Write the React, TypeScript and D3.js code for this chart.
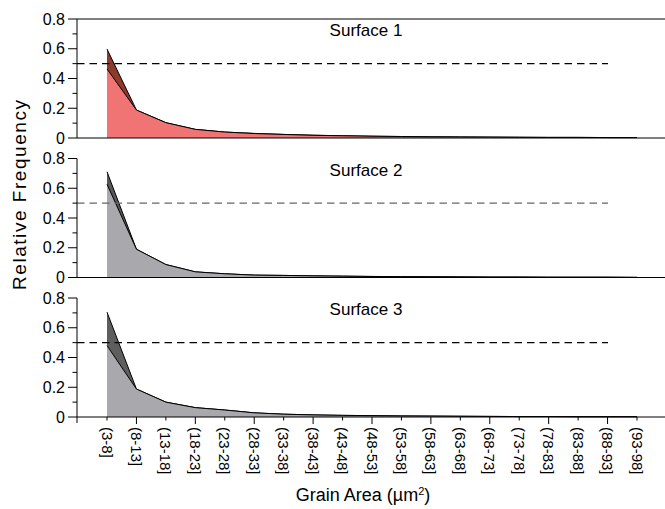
import React from "react";
import * as d3 from "d3";

const categories = ["(3-8]","(8-13]","(13-18]","(18-23]","(23-28]","(28-33]","(33-38]","(38-43]","(43-48]","(48-53]","(53-58]","(58-63]","(63-68]","(68-73]","(73-78]","(78-83]","(83-88]","(88-93]","(93-98]"];

const s1Dark = [0.598,0.188,0.103,0.058,0.04,0.031,0.024,0.019,0.015,0.012,0.01,0.008,0.007,0.006,0.005,0.004,0.004,0.003,0.003];
const s1Light = [0.464,0.188,0.103,0.058,0.04,0.03,0.024,0.018,0.015,0.012,0.01,0.008,0.007,0.006,0.005,0.004,0.004,0.003,0.003];
const s2Dark = [0.711,0.19,0.087,0.038,0.025,0.016,0.014,0.011,0.009,0.007,0.006,0.005,0.004,0.003,0.003,0.002,0.002,0.002,0.001];
const s2Light = [0.627,0.19,0.087,0.038,0.025,0.016,0.014,0.011,0.009,0.007,0.006,0.005,0.004,0.003,0.003,0.002,0.002,0.002,0.001];
const s3Dark = [0.705,0.188,0.1,0.063,0.047,0.028,0.019,0.014,0.011,0.009,0.007,0.006,0.005,0.004,0.003,0.003,0.002,0.002,0.002];
const s3Light = [0.48,0.188,0.1,0.063,0.047,0.028,0.019,0.014,0.011,0.009,0.007,0.006,0.005,0.004,0.003,0.003,0.002,0.002,0.002];

const panelTitles = ["Surface 1", "Surface 2", "Surface 3"];
const yTicks = [0, 0.2, 0.4, 0.6, 0.8];
const yMinor = [0.1, 0.3, 0.5, 0.7];
const threshold = 0.5;

const panels = [
  { title: panelTitles[0], dark: s1Dark, light: s1Light, darkFill: "#8c3a2b", lightFill: "#f07474", dash: "#000" },
  { title: panelTitles[1], dark: s2Dark, light: s2Light, darkFill: "#575757", lightFill: "#a9a9ad", dash: "#666" },
  { title: panelTitles[2], dark: s3Dark, light: s3Light, darkFill: "#5e5e5e", lightFill: "#a9a9ad", dash: "#000" },
];

const FONT = "'Liberation Sans', Arial, Helvetica, sans-serif";

export default function App() {
  const W = 665, H = 509;
  const axisX = 77;
  const rightX = 665;
  const panelTops = [19, 158.5, 298];
  const panelH = 119;
  const x = d3.scalePoint<string>().domain(categories).range([107, 637]);

  return (
    <svg width={W} height={H} style={{ position: "absolute", left: 0, top: 0, fontFamily: FONT }}>
      <rect width={W} height={H} fill="#fff" />
      {panels.map((p, pi) => {
        const top = panelTops[pi];
        const y = d3.scaleLinear().domain([0, 0.8]).range([top + panelH, top]);
        const area = d3.area<number>().x((_, i) => x(categories[i])!).y0(y(0)).y1((d) => y(d));
        const line = d3.line<number>().x((_, i) => x(categories[i])!).y((d) => y(d));
        const bottom = y(0);
        return (
          <g key={pi}>
            <path d={area(p.dark)!} fill={p.darkFill} />
            <path d={line(p.dark)!} fill="none" stroke="#000" strokeWidth={1} />
            <path d={area(p.light)!} fill={p.lightFill} />
            <path d={line(p.light)!} fill="none" stroke="#000" strokeWidth={1} />
            <line x1={axisX} x2={608} y1={y(threshold)} y2={y(threshold)} stroke={p.dash} strokeWidth={1.2} strokeDasharray="7.5,5" />
            {/* axes */}
            <line x1={axisX} x2={rightX} y1={bottom} y2={bottom} stroke="#000" strokeWidth={1} />
            <line x1={axisX} x2={axisX} y1={top} y2={pi === 2 ? bottom + 6 : bottom} stroke="#000" strokeWidth={1} />
            {pi === 0 && <line x1={axisX} x2={rightX} y1={top} y2={top} stroke="#000" strokeWidth={1} />}
            {yTicks.map((t) => (
              <g key={t}>
                <line x1={axisX - 9} x2={axisX} y1={y(t)} y2={y(t)} stroke="#000" />
                <text x={axisX - 12} y={y(t)} dy="0.35em" textAnchor="end" fontSize={16} fill="#000">
                  {t === 0 ? "0" : d3.format(".1f")(t)}
                </text>
              </g>
            ))}
            {yMinor.map((t) => (
              <line key={t} x1={axisX - 4.5} x2={axisX} y1={y(t)} y2={y(t)} stroke="#000" />
            ))}
            <text x={366} y={top + 17} textAnchor="middle" fontSize={17} fill="#000">{p.title}</text>
            {pi === 2 &&
              categories.map((c, i) => (
                <g key={c}>
                  <line x1={x(c)} x2={x(c)} y1={bottom} y2={bottom + (i % 2 === 1 ? 7 : 3.5)} stroke="#000" />
                  <text
                    transform={`translate(${x(c)},${bottom + 10}) rotate(90)`}
                    textAnchor="start"
                    dominantBaseline="central"
                    fontSize={15}
                    fill="#000"
                  >
                    {c}
                  </text>
                </g>
              ))}
          </g>
        );
      })}
      <text x={363} y={501} textAnchor="middle" fontSize={18} fill="#000">
        Grain Area (µm<tspan dy="-6" fontSize={11}>2</tspan><tspan dy="6">)</tspan>
      </text>
      <text transform="translate(26,195) rotate(-90)" textAnchor="middle" fontSize={19} textLength={190} lengthAdjust="spacing" fill="#000">
        Relative Frequency
      </text>
    </svg>
  );
}
